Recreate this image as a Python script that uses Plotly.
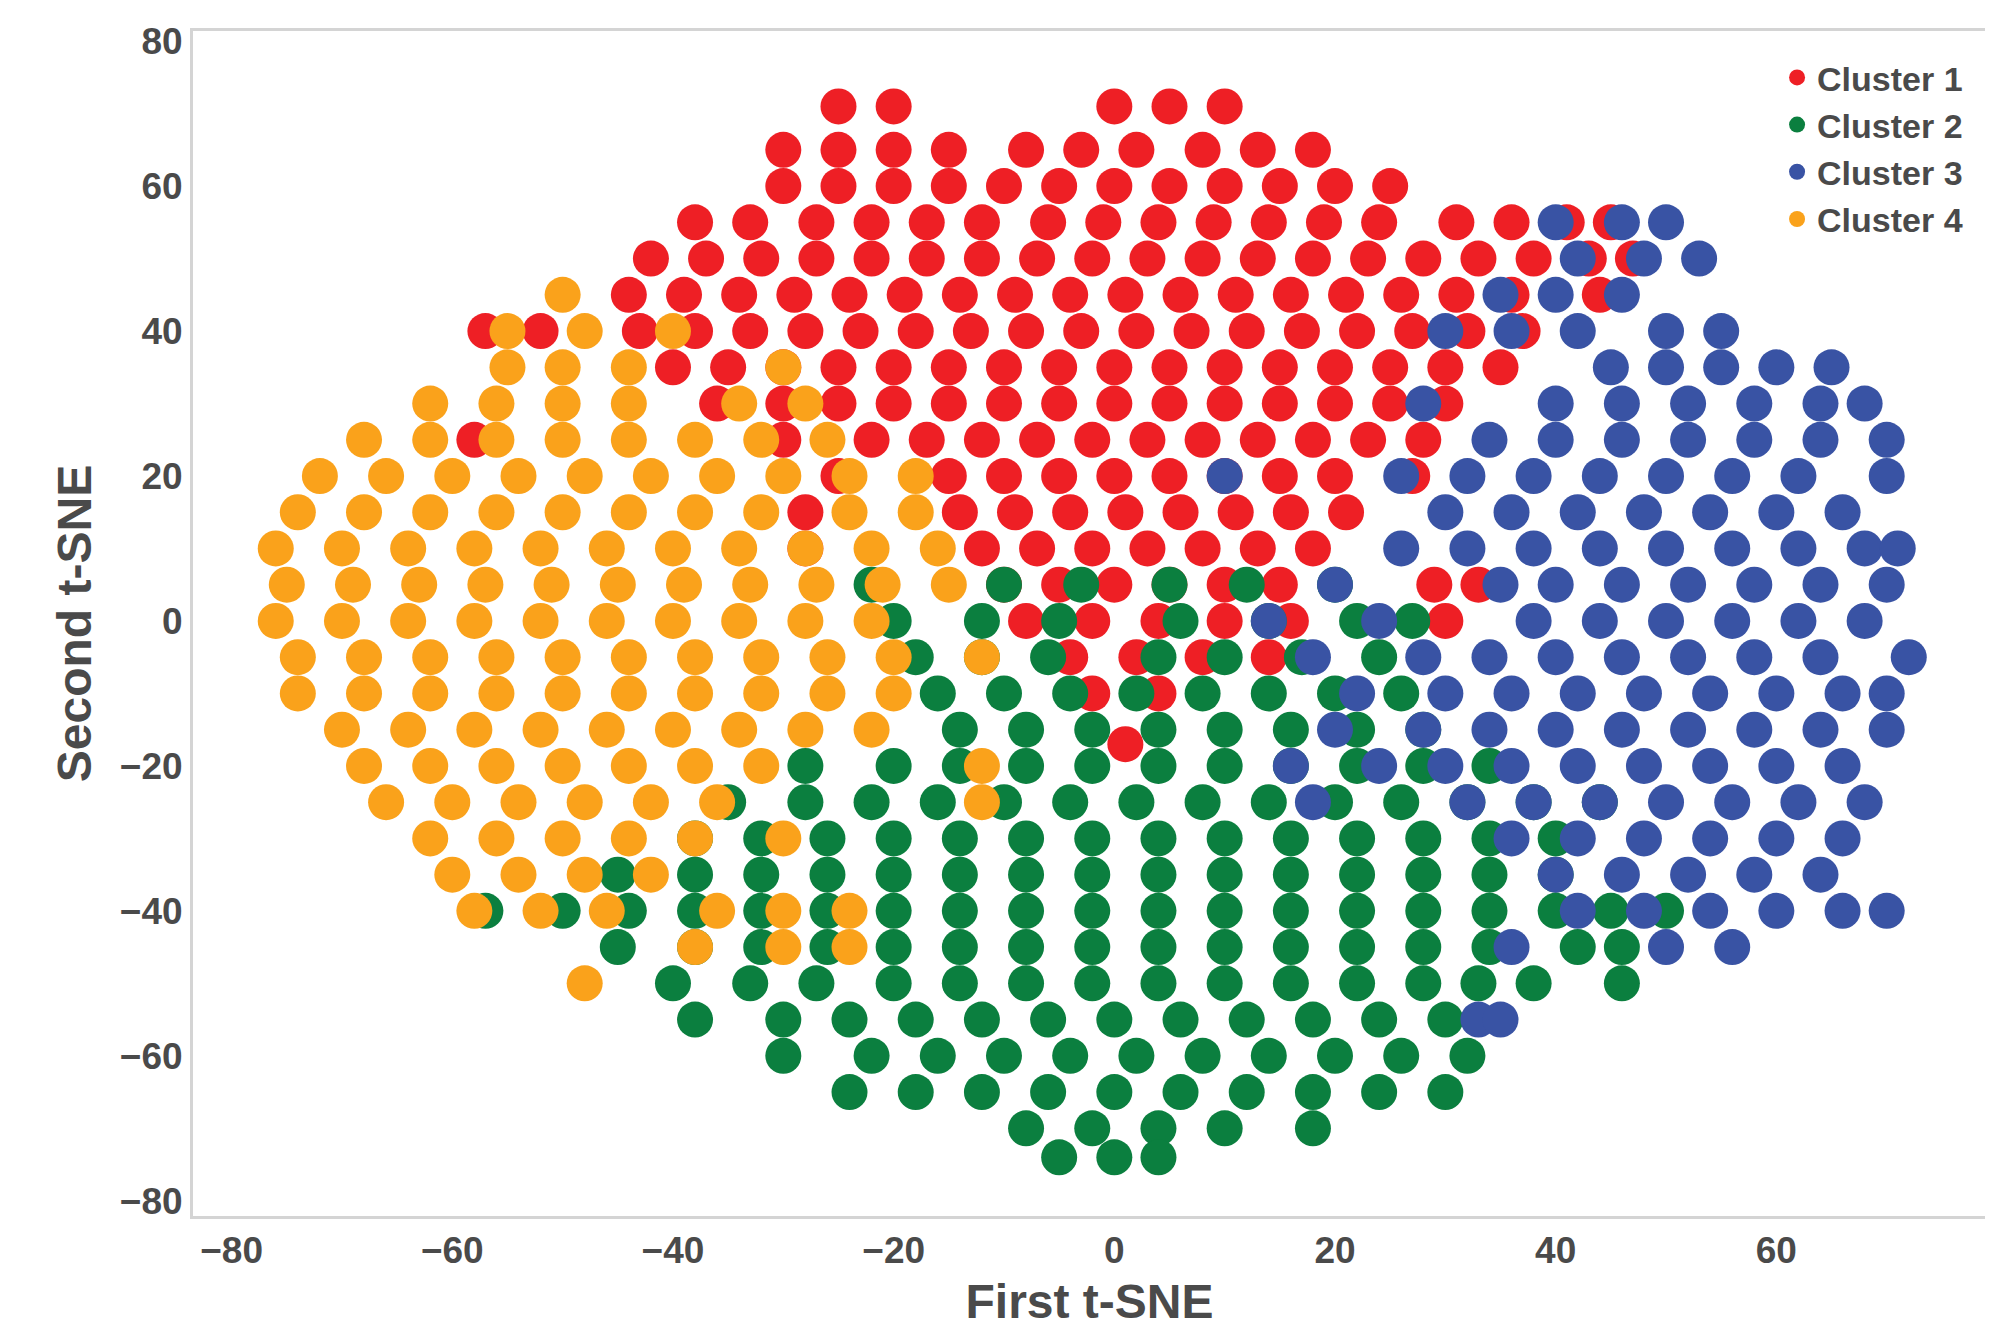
import plotly.graph_objects as go

# rows of points: y level -> x values
cluster1_rows = {
    71: [-25, -20, 0, 5, 10],
    65: [-30, -25, -20, -15, -8, -3, 2, 8, 13, 18],
    60: [-30, -25, -20, -15, -10, -5, 0, 5, 10, 15, 20, 25],
    55: [-38, -33, -27, -22, -17, -12, -6, -1, 4, 9, 14, 19, 24, 31, 36, 41, 45],
    50: [-42, -37, -32, -27, -22, -17, -12, -7, -2, 3, 8, 13, 18, 23, 28, 33, 38, 43, 47],
    45: [-44, -39, -34, -29, -24, -19, -14, -9, -4, 1, 6, 11, 16, 21, 26, 31, 36, 44],
    40: [-57, -52, -43, -38, -33, -28, -23, -18, -13, -8, -3, 2, 7, 12, 17, 22, 27, 32, 37],
    35: [-40, -35, -30, -25, -20, -15, -10, -5, 0, 5, 10, 15, 20, 25, 30, 35],
    30: [-36, -30, -25, -20, -15, -10, -5, 0, 5, 10, 15, 20, 25, 30],
    25: [-58, -30, -22, -17, -12, -7, -2, 3, 8, 13, 18, 23, 28],
    20: [-25, -15, -10, -5, 0, 5, 10, 15, 20, 27],
    15: [-28, -14, -9, -4, 1, 6, 11, 16, 21],
    10: [-28, -12, -7, -2, 3, 8, 13, 18],
    5: [-10, -5, 0, 5, 10, 15, 29, 33],
    0: [-8, -2, 4, 10, 16, 30],
    -5: [-4, 2, 8, 14],
    -10: [-2, 4],
    -17: [1],
}
cluster2_rows = {
    5: [-22, -10, -3, 5, 12, 20],
    0: [-20, -12, -5, 6, 14, 22, 27],
    -5: [-18, -12, -6, 4, 10, 17, 24],
    -10: [-16, -10, -4, 2, 8, 14, 20, 26],
    -15: [-14, -8, -2, 4, 10, 16, 22, 28],
    -20: [-28, -20, -14, -8, -2, 4, 10, 16, 22, 28, 34],
    -25: [-35, -28, -22, -16, -10, -4, 2, 8, 14, 20, 26, 32, 38, 44],
    -30: [-38, -32, -26, -20, -14, -8, -2, 4, 10, 16, 22, 28, 34, 40],
    -35: [-45, -38, -32, -26, -20, -14, -8, -2, 4, 10, 16, 22, 28, 34, 40],
    -40: [-57, -50, -44, -38, -32, -26, -20, -14, -8, -2, 4, 10, 16, 22, 28, 34, 40, 45, 50],
    -45: [-45, -38, -32, -26, -20, -14, -8, -2, 4, 10, 16, 22, 28, 34, 42, 46],
    -50: [-40, -33, -27, -20, -14, -8, -2, 4, 10, 16, 22, 28, 33, 38, 46],
    -55: [-38, -30, -24, -18, -12, -6, 0, 6, 12, 18, 24, 30],
    -60: [-30, -22, -16, -10, -4, 2, 8, 14, 20, 26, 32],
    -65: [-24, -18, -12, -6, 0, 6, 12, 18, 24, 30],
    -70: [-8, -2, 4, 10, 18],
    -74: [-5, 0, 4],
}
cluster3_rows = {
    55: [40, 46, 50],
    50: [42, 48, 53],
    45: [35, 40, 46],
    40: [30, 36, 42, 50, 55],
    35: [45, 50, 55, 60, 65],
    30: [28, 40, 46, 52, 58, 64, 68],
    25: [34, 40, 46, 52, 58, 64, 70],
    20: [10, 26, 32, 38, 44, 50, 56, 62, 70],
    15: [30, 36, 42, 48, 54, 60, 66],
    10: [26, 32, 38, 44, 50, 56, 62, 68, 71],
    5: [20, 35, 40, 46, 52, 58, 64, 70],
    0: [14, 24, 38, 44, 50, 56, 62, 68],
    -5: [18, 28, 34, 40, 46, 52, 58, 64, 72],
    -10: [22, 30, 36, 42, 48, 54, 60, 66, 70],
    -15: [20, 28, 34, 40, 46, 52, 58, 64, 70],
    -20: [16, 24, 30, 36, 42, 48, 54, 60, 66],
    -25: [18, 32, 38, 44, 50, 56, 62, 68],
    -30: [36, 42, 48, 54, 60, 66],
    -35: [40, 46, 52, 58, 64],
    -40: [42, 48, 54, 60, 66, 70],
    -45: [36, 50, 56],
    -55: [33, 35],
}
cluster4_rows = {
    45: [-50],
    40: [-55, -48, -40],
    35: [-55, -50, -44, -30],
    30: [-62, -56, -50, -44, -34, -28],
    25: [-68, -62, -56, -50, -44, -38, -32, -26],
    20: [-72, -66, -60, -54, -48, -42, -36, -30, -24, -18],
    15: [-74, -68, -62, -56, -50, -44, -38, -32, -24, -18],
    10: [-76, -70, -64, -58, -52, -46, -40, -34, -28, -22, -16],
    5: [-75, -69, -63, -57, -51, -45, -39, -33, -27, -21, -15],
    0: [-76, -70, -64, -58, -52, -46, -40, -34, -28, -22],
    -5: [-74, -68, -62, -56, -50, -44, -38, -32, -26, -20, -12],
    -10: [-74, -68, -62, -56, -50, -44, -38, -32, -26, -20],
    -15: [-70, -64, -58, -52, -46, -40, -34, -28, -22],
    -20: [-68, -62, -56, -50, -44, -38, -32, -12],
    -25: [-66, -60, -54, -48, -42, -36, -12],
    -30: [-62, -56, -50, -44, -38, -30],
    -35: [-60, -54, -48, -42],
    -40: [-58, -52, -46, -36, -30, -24],
    -45: [-38, -30, -24],
    -50: [-48],
}

names = ["Cluster 1", "Cluster 2", "Cluster 3", "Cluster 4"]
colors = ["#ee1f25", "#0b7f3f", "#3953a4", "#faa21b"]
x_ticks = [-80, -60, -40, -20, 0, 20, 40, 60]
y_ticks = [-80, -60, -40, -20, 0, 20, 40, 60, 80]


def unpack(rows):
    xs, ys = [], []
    for y, row in rows.items():
        for x in row:
            xs.append(x)
            ys.append(y)
    return xs, ys


fig = go.Figure()
for rows, name, color in zip([cluster1_rows, cluster2_rows, cluster3_rows, cluster4_rows], names, colors):
    xs, ys = unpack(rows)
    fig.add_trace(go.Scatter(x=xs, y=ys, mode="markers", name=name,
                             marker=dict(color=color, size=36, line=dict(width=0))))

txt = "#4a4a4a"
axis = dict(showgrid=False, zeroline=False, showline=True, mirror=True,
            linecolor="#d4d4d4", linewidth=3, ticks="", tickfont=dict(size=37, color=txt))
fig.update_layout(
    width=1993, height=1331,
    margin=dict(l=185, r=15, t=23, b=123),
    paper_bgcolor="white", plot_bgcolor="white",
    font=dict(family="Liberation Sans, Arial", weight="bold", color=txt),
    xaxis=dict(axis, range=[-83.5, 79], tickvals=x_ticks,
               title=dict(text="First t-SNE", font=dict(size=48), standoff=14)),
    yaxis=dict(axis, range=[-82.1, 81.4], tickvals=y_ticks,
               title=dict(text="Second t-SNE", font=dict(size=48), standoff=14)),
    legend=dict(x=0.99, y=0.985, xanchor="right", yanchor="top", bgcolor="rgba(0,0,0,0)",
                font=dict(size=34, color=txt), itemsizing="trace", tracegroupgap=6),
)
fig.write_html("out.html")
